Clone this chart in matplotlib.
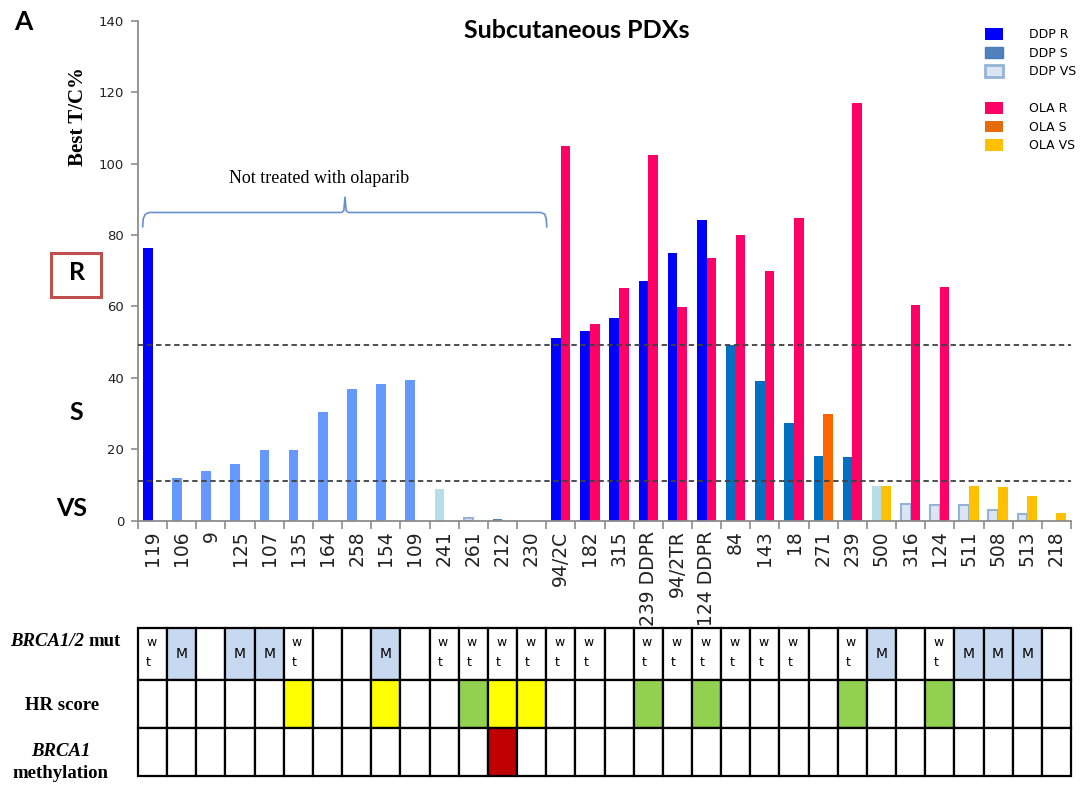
import numpy as np
import matplotlib.pyplot as plt
from matplotlib.patches import Patch, Rectangle

nan = np.nan

# PDX models, in plotting order
pdx = ['119', '106', '9', '125', '107', '135', '164', '258', '154', '109', '241', '261', '212', '230',
       '94/2C', '182', '315', '239 DDPR', '94/2TR', '124 DDPR', '84', '143', '18', '271', '239',
       '500', '316', '124', '511', '508', '513', '218']

# best T/C % under cisplatin (DDP) and olaparib (OLA)
ddp_tc = [76.3, 12.0, 14.0, 15.9, 19.9, 19.9, 30.3, 37.0, 38.4, 39.3, 8.9, 0.7, 0.5, nan,
          51.2, 53.1, 56.8, 67.1, 74.9, 84.2, 49.3, 39.1, 27.4, 18.2, 17.9,
          9.8, 4.6, 4.3, 4.3, 3.0, 2.0, nan]
ddp_resp = ['R', 'S1', 'S1', 'S1', 'S1', 'S1', 'S1', 'S1', 'S1', 'S1', 'VS1', 'VS', 'S2', '',
            'R', 'R', 'R', 'R', 'R', 'R', 'S', 'S', 'S', 'S', 'S',
            'VS1', 'VS', 'VS', 'VS', 'VS', 'VS', '']
ola_tc = [nan] * 14 + [104.8, 55.1, 65.1, 102.3, 59.8, 73.5, 80.0, 69.9, 84.7, 29.9, 116.9,
                       9.8, 60.4, 65.4, 9.8, 9.5, 7.0, 2.2]
ola_resp = [''] * 14 + ['R', 'R', 'R', 'R', 'R', 'R', 'R', 'R', 'R', 'S', 'R',
                        'VS', 'R', 'R', 'VS', 'VS', 'VS', 'VS']

# response thresholds
r_cut = 49.3
vs_cut = 11.1

# molecular annotations
brca_mut = ['wt', 'M', '', 'M', 'M', 'wt', '', '', 'M', '', 'wt', 'wt', 'wt', 'wt',
            'wt', 'wt', '', 'wt', 'wt', 'wt', 'wt', 'wt', 'wt', '', 'wt',
            'M', '', 'wt', 'M', 'M', 'M', '']
hr_score = ['', '', '', '', '', 'low', '', '', 'low', '', '', 'high', 'low', 'low',
            '', '', '', 'high', '', 'high', '', '', '', '', 'high',
            '', '', 'high', '', '', '', '']
brca1_meth = [''] * 12 + ['yes'] + [''] * 19

ddp_colors = {'R': '#0000ff', 'S': '#0070c0', 'S1': '#6699ff', 'S2': '#4f81bd',
              'VS': '#dce6f2', 'VS1': '#b7dde8', '': 'none'}
ola_colors = {'R': '#ff0066', 'S': '#ff6600', 'VS': '#ffc000', '': 'none'}
cell_colors = {'M': '#c6d9f1', 'low': '#ffff00', 'high': '#92d050', 'yes': '#c00000'}

W, H = 1091, 785


def fx(x):
    return x / W


def fy(y):
    return 1 - y / H


fig = plt.figure(figsize=(W / 100, H / 100), dpi=100)
ax = fig.add_axes([fx(138), fy(520.7), fx(1071 - 138), (520.7 - 20.7) / H])

x = np.arange(len(pdx))
bw = 0.33
ddp_edge = ['#95b3d7' if r == 'VS' else 'none' for r in ddp_resp]
ddp_lw = [1.5 if r == 'VS' else 0 for r in ddp_resp]
ax.bar(x - bw / 2, ddp_tc, bw, color=[ddp_colors[r] for r in ddp_resp],
       edgecolor=ddp_edge, linewidth=ddp_lw, zorder=2)
ax.bar(x + bw / 2, ola_tc, bw, color=[ola_colors[r] for r in ola_resp],
       linewidth=0, zorder=2)

for lvl in (r_cut, vs_cut):
    ax.axhline(lvl, color='#404040', lw=1.3, dashes=(3, 2), zorder=3)

ax.set_xlim(-0.5, len(pdx) - 0.5)
ax.set_ylim(0, 140)
ax.set_yticks(np.arange(0, 141, 20))
ax.set_xticks(x)
ax.set_xticklabels(pdx, rotation=90, fontsize=13.5, color='#222222')
ax.set_xticks(np.arange(-0.5, len(pdx)), minor=True)
ax.tick_params(axis='x', which='major', length=0, pad=7)
ax.tick_params(axis='x', which='minor', length=6, color='#8c8c8c', width=1.2)
ax.tick_params(axis='y', length=5, color='#8c8c8c', width=1.2, labelsize=9.5,
               labelcolor='#222222', pad=5)
for s in ('top', 'right'):
    ax.spines[s].set_visible(False)
for s in ('left', 'bottom'):
    ax.spines[s].set_color('#8c8c8c')
    ax.spines[s].set_linewidth(1.3)

# brace over the models that did not get olaparib
bx = [-0.34, -0.32, -0.25, -0.12, 6.48, 6.56, 6.6, 6.64, 6.72, 13.32, 13.45, 13.5, 13.52]
by = [82.3, 84.6, 85.8, 86.3, 86.3, 86.8, 90.6, 86.8, 86.3, 86.3, 85.8, 84.6, 82.3]
ax.plot(bx, by, color='#6a8fcb', lw=1.2, solid_joinstyle='round', zorder=3)
ax.text(5.7, 94.5, 'Not treated with olaparib', ha='center', va='baseline',
        fontsize=13, family='Liberation Serif')

fig.text(fx(577), fy(30), 'Subcutaneous PDXs', ha='center', va='center',
         fontsize=18, fontweight='bold', family='Lato')
fig.text(fx(23), fy(22), 'A', ha='center', va='center', fontsize=19,
         fontweight='bold', family='Lato')
fig.text(fx(78), fy(117), 'Best T/C%', rotation=90, ha='center', va='center',
         fontsize=15, fontweight='bold', family='Liberation Serif')

# response class markers on the left
fig.add_artist(Rectangle((fx(51), fy(297)), fx(50), 44 / H, transform=fig.transFigure,
                         facecolor='none', edgecolor='#c0504d', lw=2.2))
fig.text(fx(77), fy(273), 'R', ha='center', va='center', fontsize=18,
         fontweight='bold', family='Lato')
fig.text(fx(76), fy(412), 'S', ha='center', va='center', fontsize=18,
         fontweight='bold', family='Lato')
fig.text(fx(72), fy(509), 'VS', ha='center', va='center', fontsize=18,
         fontweight='bold', family='Lato')

# legend
handles = [Patch(facecolor='#0000ff', label='DDP R'),
           Patch(facecolor='#4f81bd', edgecolor='#4a7ebb', label='DDP S'),
           Patch(facecolor='#dce6f2', edgecolor='#95b3d7', lw=2, label='DDP VS'),
           Patch(facecolor='none', edgecolor='none', label=' '),
           Patch(facecolor='#ff0066', label='OLA R'),
           Patch(facecolor='#e46c0a', label='OLA S'),
           Patch(facecolor='#ffc000', label='OLA VS')]
fig.legend(handles=handles, loc='upper left', bbox_to_anchor=(fx(985), fy(28)),
           frameon=False, fontsize=9, borderpad=0, borderaxespad=0,
           handlelength=1.44, handleheight=1.04, handletextpad=2.1, labelspacing=0.44)

# annotation table under the bars
tax = fig.add_axes([fx(138), fy(776), fx(1071 - 138), (776 - 628) / H])
tax.set_xlim(-0.5, len(pdx) - 0.5)
tax.set_ylim(0, 3.08)
tax.axis('off')
rows = [(brca_mut, 2.0, 1.08), (hr_score, 1.0, 1.0), (brca1_meth, 0.0, 1.0)]
for vals, y0, h in rows:
    for i, v in enumerate(vals):
        fc = cell_colors.get(v, 'white')
        tax.add_patch(Rectangle((i - 0.5, y0), 1, h, facecolor=fc, edgecolor='black',
                                lw=1.6, clip_on=False))
        if v == 'wt':
            tax.text(i - 0.22, y0 + h * 0.52, 'w\nt', ha='left', va='center',
                     fontsize=9, linespacing=1.7)
        elif v == 'M':
            tax.text(i, y0 + h * 0.5, 'M', ha='center', va='center', fontsize=10)

serif = 'Liberation Serif'
fig.text(fx(84), fy(641), 'BRCA1/2', ha='right', va='center', fontsize=13.5,
         fontweight='bold', style='italic', family=serif)
fig.text(fx(88), fy(641), 'mut', ha='left', va='center', fontsize=13.5,
         fontweight='bold', family=serif)
fig.text(fx(62), fy(706), 'HR score', ha='center', va='center', fontsize=13.5,
         fontweight='bold', family=serif)
fig.text(fx(61), fy(751), 'BRCA1', ha='center', va='center', fontsize=13.5,
         fontweight='bold', style='italic', family=serif)
fig.text(fx(60), fy(773), 'methylation', ha='center', va='center', fontsize=13.5,
         fontweight='bold', family=serif)

fig.savefig('out.png', dpi=100)
